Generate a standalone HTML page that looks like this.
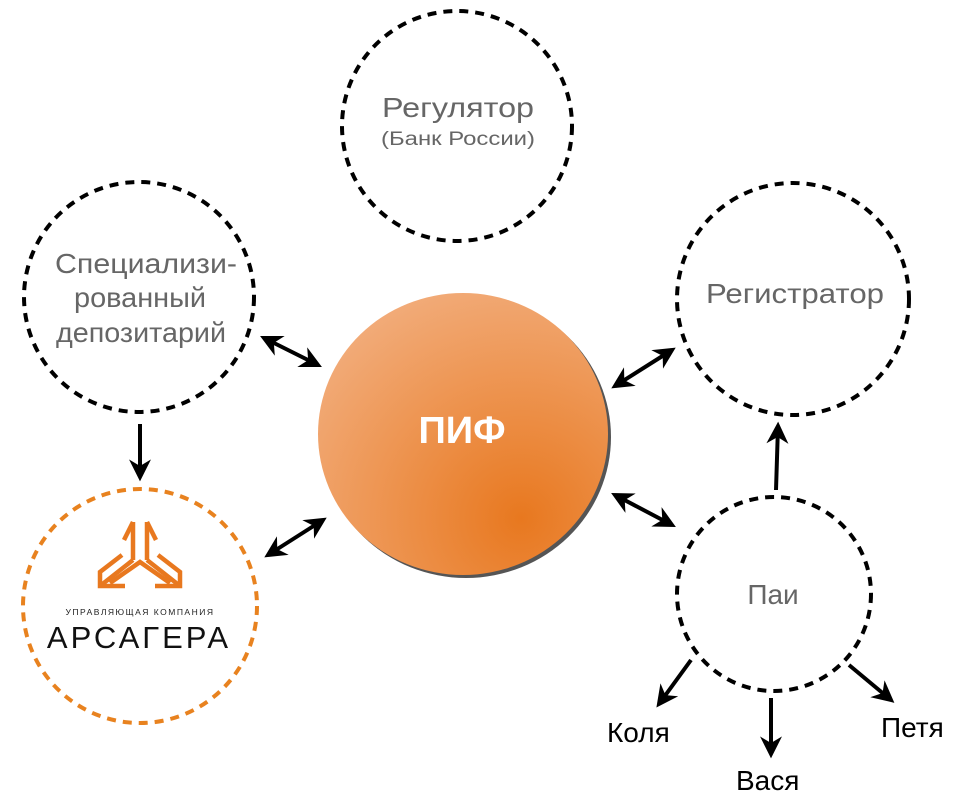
<!DOCTYPE html>
<html><head><meta charset="utf-8"><style>
html,body{margin:0;padding:0;background:#fff;}
svg{display:block;}
text{font-family:"Liberation Sans","Noto Sans CJK SC",sans-serif;}
</style></head><body>
<svg width="960" height="806" viewBox="0 0 960 806" xmlns="http://www.w3.org/2000/svg">
<defs>
<radialGradient id="g" cx="0.7" cy="0.8" r="0.9">
<stop offset="0" stop-color="#e8781f"/>
<stop offset="1" stop-color="#f2ad7c"/>
</radialGradient>
<marker id="a" viewBox="0 0 10 10" refX="8" refY="5" markerWidth="5.5" markerHeight="5.5" orient="auto-start-reverse">
<path d="M0,0 L10,5 L0,10 L3,5 z" fill="#000"/>
</marker>
</defs>
<g fill="none" stroke="#000" stroke-width="4" stroke-dasharray="9 7">
<circle cx="457" cy="126" r="115"/>
<circle cx="139" cy="297" r="115"/>
<circle cx="793" cy="299" r="116"/>
<circle cx="774" cy="594" r="97"/>
</g>
<circle cx="140" cy="606" r="117" fill="none" stroke="#e8821f" stroke-width="4" stroke-dasharray="9 7"/>
<ellipse cx="466" cy="437" rx="145" ry="141" fill="#555"/>
<ellipse cx="463" cy="434" rx="145" ry="141" fill="url(#g)"/>
<text x="462" y="443" font-size="38" font-weight="bold" fill="#fff" text-anchor="middle">ПИФ</text>
<g fill="#666" text-anchor="middle">
<text x="458" y="117" font-size="28" textLength="152" lengthAdjust="spacingAndGlyphs">Регулятор</text>
<text x="458" y="145" font-size="19" textLength="154" lengthAdjust="spacingAndGlyphs">(Банк России)</text>
<text x="146" y="273" font-size="28" textLength="182" lengthAdjust="spacingAndGlyphs">Специализи-</text>
<text x="140" y="307" font-size="28" textLength="132" lengthAdjust="spacingAndGlyphs">рованный</text>
<text x="141" y="342" font-size="28" textLength="170" lengthAdjust="spacingAndGlyphs">депозитарий</text>
<text x="795" y="303" font-size="28" textLength="178" lengthAdjust="spacingAndGlyphs">Регистратор</text>
<text x="773" y="604" font-size="28">Паи</text>
</g>
<g fill="#000" font-size="28">
<text x="607" y="742">Коля</text>
<text x="736" y="790">Вася</text>
<text x="881" y="737">Петя</text>
</g>
<g stroke="#000" stroke-width="4" fill="none">
<line x1="264" y1="338" x2="318" y2="365" marker-start="url(#a)" marker-end="url(#a)"/>
<line x1="268" y1="555" x2="323" y2="520" marker-start="url(#a)" marker-end="url(#a)"/>
<line x1="615" y1="386" x2="672" y2="350" marker-start="url(#a)" marker-end="url(#a)"/>
<line x1="615" y1="495" x2="672" y2="525" marker-start="url(#a)" marker-end="url(#a)"/>
<line x1="140" y1="424" x2="140" y2="477" marker-end="url(#a)"/>
<line x1="776" y1="490" x2="778" y2="426" marker-end="url(#a)"/>
<line x1="691" y1="660" x2="659" y2="704" marker-end="url(#a)"/>
<line x1="771" y1="698" x2="771" y2="754" marker-end="url(#a)"/>
<line x1="849" y1="665" x2="891" y2="700" marker-end="url(#a)"/>
</g>
<!-- logo -->
<g fill="none" stroke="#e8781f" stroke-width="4.5" stroke-linecap="butt">
<path d="M133,522 L133,560 M147,522 L147,560"/>
<path d="M133,522 L124,540 M147,522 L156,540"/>
<path d="M133,560 L100,586 M147,560 L180,586"/>
<path d="M122,555 L100,572 L100,586 L125,586 M158,555 L180,572 L180,586 L155,586"/>
<path d="M110,583 L140,562 L170,583"/>
</g>
<text x="140" y="615" font-size="8.5" fill="#222" text-anchor="middle" letter-spacing="1.5">УПРАВЛЯЮЩАЯ КОМПАНИЯ</text>
<text x="139" y="648" font-size="31" fill="#111" text-anchor="middle" letter-spacing="3">АРСАГЕРА</text>
</svg>
</body></html>
